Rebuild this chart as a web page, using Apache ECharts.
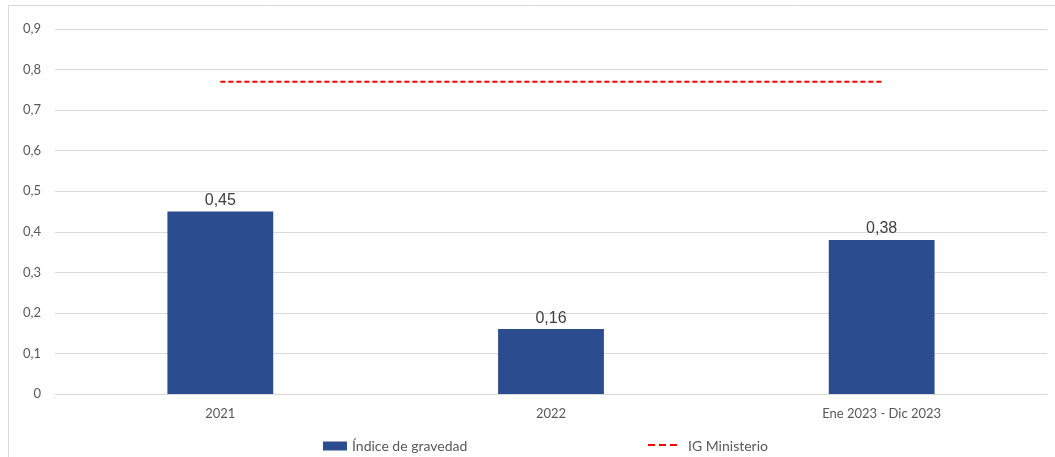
<!DOCTYPE html>
<html><head><meta charset="utf-8">
<script src="https://cdn.jsdelivr.net/npm/echarts@6/dist/echarts.min.js"></script>
<style>html,body{margin:0;padding:0;background:#fff}#c{width:1055px;height:457px}</style>
</head><body><div id="c"></div>
<script>
const categories = ['2021', '2022', 'Ene 2023 - Dic 2023'];
const indiceGravedad = [0.45, 0.16, 0.38];
const igMinisterio = [0.77, 0.77, 0.77];
const yTicks = [0, 0.1, 0.2, 0.3, 0.4, 0.5, 0.6, 0.7, 0.8, 0.9];

const fmt = v => String(Math.round(v * 100) / 100).replace('.', ',');
const legendText = {fontFamily: 'Lato', fontSize: 14, color: '#595959'};
const chart = echarts.init(document.getElementById('c'));
chart.setOption({
  animation: false,
  graphic: [{type: 'rect', shape: {x: 8.5, y: 5.5, width: 1100, height: 500}, style: {fill: 'none', stroke: '#d9d9d9', lineWidth: 1}, silent: true}],
  grid: {left: 55, right: 8, top: 29, bottom: 63},
  legend: [
    {
      top: 434, left: 318,
      itemWidth: 24, itemHeight: 9,
      textStyle: legendText,
      data: [{name: 'Índice de gravedad', icon: 'rect'}]
    },
    {
      top: 434, left: 643,
      itemWidth: 35, itemHeight: 9,
      textStyle: legendText,
      data: [{name: 'IG Ministerio', icon: 'path://M0,-3.5L0.01,-3.5Z M0,-1H7V1H0Z M11,-1H18V1H11Z M22,-1H29V1H22Z M35,5.5L35.01,5.5Z', itemStyle: {color: '#FF0000'}}]
    }
  ],
  xAxis: {
    type: 'category', data: categories,
    axisLine: {lineStyle: {color: '#d9d9d9', width: 1}},
    axisTick: {show: false},
    axisLabel: {fontFamily: 'Lato', fontSize: 13, color: '#595959', margin: 13}
  },
  yAxis: {
    type: 'value', min: 0, max: yTicks[yTicks.length - 1], interval: 0.1,
    axisLine: {show: false}, axisTick: {show: false},
    splitLine: {lineStyle: {color: '#d9d9d9', width: 1}},
    axisLabel: {fontFamily: 'Lato', fontSize: 13, color: '#595959', margin: 14, formatter: fmt}
  },
  series: [
    {
      name: 'Índice de gravedad', type: 'bar', data: indiceGravedad,
      barWidth: '32%',
      itemStyle: {color: '#2B4C8F'},
      label: {show: true, position: 'top', distance: 3, fontFamily: 'Liberation Sans', fontSize: 16, color: '#404040', formatter: p => fmt(p.value)}
    },
    {
      name: 'IG Ministerio', type: 'line', data: igMinisterio,
      symbol: 'none', showSymbol: false,
      lineStyle: {color: '#FF0000', type: [5, 3], width: 2},
      itemStyle: {color: '#FF0000'}
    }
  ]
});
</script></body></html>
